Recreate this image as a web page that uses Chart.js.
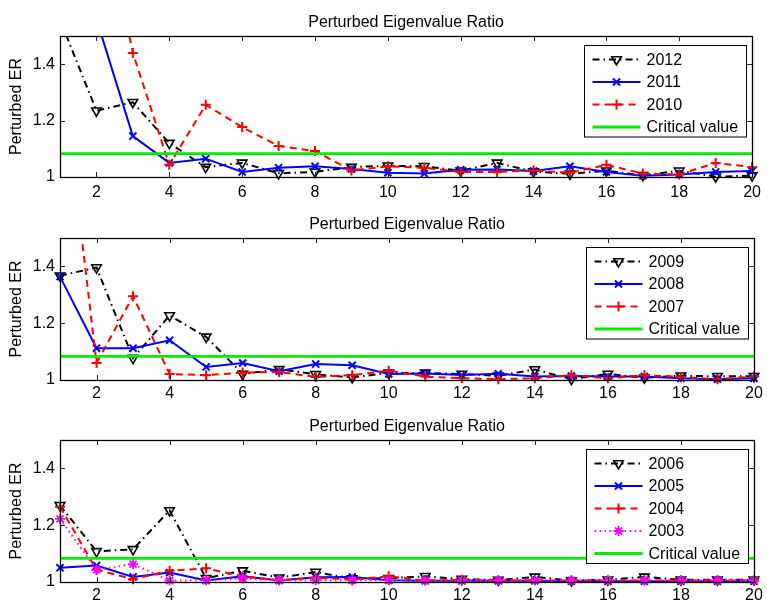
<!DOCTYPE html>
<html>
<head>
<meta charset="utf-8">
<title>Perturbed Eigenvalue Ratio</title>
<script src="https://cdn.jsdelivr.net/npm/chart.js@4.4.0/dist/chart.umd.min.js"></script>
<style>
  body { margin: 0; background: #fff; }
  .panel { position: absolute; left: 0; }
</style>
</head>
<body>
<canvas id="panelTop" class="panel" width="767" height="200" style="top:0"></canvas>
<canvas id="panelMid" class="panel" width="767" height="200" style="top:200px"></canvas>
<canvas id="panelBot" class="panel" width="767" height="202" style="top:400px"></canvas>
<script>
// number of eigenvalues on the x axis
const ranks = [1, 2, 3, 4, 5, 6, 7, 8, 9, 10, 11, 12, 13, 14, 15, 16, 17, 18, 19, 20];
const xTicks = [2, 4, 6, 8, 10, 12, 14, 16, 18, 20];
const yTicks = [1, 1.2, 1.4];
const yMin = 1, yMax = 1.5;
const criticalValue = 1.083;

// perturbed eigenvalue ratio by year
const er2012 = [1.558, 1.235, 1.265, 1.12, 1.035, 1.05, 1.013, 1.018, 1.035, 1.04, 1.038, 1.022, 1.05, 1.019, 1.011, 1.022, 1.006, 1.022, 1.001, 1.005];
const er2011 = [1.95, 1.56, 1.145, 1.05, 1.065, 1.018, 1.033, 1.038, 1.028, 1.015, 1.012, 1.026, 1.027, 1.021, 1.038, 1.018, 1.004, 1.009, 1.018, 1.021];
const er2010 = [2.4, 2.05, 1.44, 1.043, 1.256, 1.177, 1.11, 1.092, 1.023, 1.038, 1.033, 1.018, 1.018, 1.023, 1.015, 1.043, 1.012, 1.009, 1.05, 1.035];

const er2009 = [1.367, 1.396, 1.077, 1.227, 1.152, 1.021, 1.038, 1.02, 1.009, 1.025, 1.025, 1.021, 1.015, 1.037, 1.003, 1.021, 1.008, 1.015, 1.013, 1.013];
const er2008 = [1.364, 1.112, 1.112, 1.14, 1.046, 1.06, 1.031, 1.056, 1.052, 1.021, 1.023, 1.018, 1.022, 1.012, 1.014, 1.012, 1.012, 1.006, 1.003, 1.006];
const er2007 = [2.15, 1.06, 1.295, 1.021, 1.017, 1.026, 1.028, 1.011, 1.017, 1.033, 1.012, 1.006, 1.003, 1.006, 1.017, 1.006, 1.017, 1.011, 1.003, 1.012];

const er2006 = [1.27, 1.108, 1.115, 1.252, 1.013, 1.04, 1.015, 1.035, 1.012, 1.013, 1.02, 1.01, 1.007, 1.018, 1.005, 1.008, 1.018, 1.008, 1.008, 1.008];
const er2005 = [1.05, 1.058, 1.018, 1.033, 1.005, 1.02, 1.005, 1.017, 1.018, 1.006, 1.004, 1.004, 1.004, 1.004, 1.003, 1.003, 1.003, 1.003, 1.003, 1.003];
const er2004 = [1.265, 1.043, 1.01, 1.04, 1.048, 1.02, 1.006, 1.015, 1.009, 1.02, 1.005, 1.008, 1.005, 1.006, 1.005, 1.005, 1.005, 1.005, 1.005, 1.005];
const er2003 = [1.222, 1.043, 1.063, 1.005, 1.006, 1.012, 1.006, 1.006, 1.006, 1.006, 1.006, 1.006, 1.006, 1.006, 1.006, 1.006, 1.006, 1.006, 1.006, 1.006];

const FONT = "'Liberation Sans', Arial, Helvetica, sans-serif";
const FONT_SIZE = 16;
Chart.defaults.font.family = FONT;
Chart.defaults.font.size = FONT_SIZE;
Chart.defaults.color = '#000';

// matlab-ish line styles, in plotting order
const styles = [
  { color: '#000000', dash: [7, 4, 1.5, 4], point: 'triangle', rot: 180, radius: 5.5, pw: 1.6 },
  { color: '#0000ff', dash: [], point: 'crossRot', rot: 0, radius: 5, pw: 2 },
  { color: '#ff0000', dash: [7, 5], point: 'cross', rot: 0, radius: 5, pw: 2 },
  { color: '#ff00ff', dash: [1.5, 3.5], point: 'star', rot: 0, radius: 5, pw: 1.8 }
];

function toPoints(values) {
  return ranks.map((r, i) => ({ x: r, y: values[i] }));
}

// box around the axes with inward tick marks on all four sides
const axesBox = {
  id: 'axesBox',
  afterDatasetsDraw(chart) {
    const { ctx, chartArea: a, scales } = chart;
    ctx.save();
    ctx.strokeStyle = '#222';
    ctx.lineWidth = 1;
    ctx.beginPath();
    scales.x.ticks.forEach(t => {
      const px = Math.round(scales.x.getPixelForValue(t.value)) + 0.5;
      ctx.moveTo(px, a.bottom); ctx.lineTo(px, a.bottom - 5);
      ctx.moveTo(px, a.top); ctx.lineTo(px, a.top + 5);
    });
    scales.y.ticks.forEach(t => {
      const py = Math.round(scales.y.getPixelForValue(t.value)) + 0.5;
      ctx.moveTo(a.left, py); ctx.lineTo(a.left + 5, py);
      ctx.moveTo(a.right, py); ctx.lineTo(a.right - 5, py);
    });
    ctx.stroke();
    ctx.strokeStyle = '#000';
    ctx.lineWidth = 1.3;
    ctx.strokeRect(Math.round(a.left) + 0.5, Math.round(a.top) + 0.5,
      Math.round(a.right - a.left), Math.round(a.bottom - a.top));
    ctx.restore();
  }
};

// title centred over the plot area
const panelTitle = {
  id: 'panelTitle',
  afterDraw(chart, args, opts) {
    const { ctx, chartArea: a } = chart;
    ctx.save();
    ctx.font = FONT_SIZE + 'px ' + FONT;
    ctx.fillStyle = '#000';
    ctx.textAlign = 'center';
    ctx.textBaseline = 'alphabetic';
    ctx.fillText(opts.text, (a.left + a.right) / 2, a.top - 9.5);
    ctx.restore();
  }
};

// legend box in the upper right corner, line sample with marker in the middle
const boxLegend = {
  id: 'boxLegend',
  afterDraw(chart) {
    const { ctx, chartArea: a } = chart;
    const sets = chart.data.datasets;
    const rowH = 22.5, w = 162;
    const h = 14 + (sets.length - 1) * rowH + 10;
    const x0 = Math.round(a.right - 6 - w) + 0.5;
    const y0 = Math.round(a.top + 9) + 0.5;
    ctx.save();
    ctx.fillStyle = '#fff';
    ctx.fillRect(x0, y0, w, h);
    ctx.strokeStyle = '#000';
    ctx.lineWidth = 1;
    ctx.strokeRect(x0, y0, w, h);
    sets.forEach((ds, i) => {
      const cy = y0 + 14 + i * rowH;
      ctx.save();
      ctx.strokeStyle = ds.borderColor;
      ctx.lineWidth = ds.borderWidth;
      ctx.setLineDash(ds.borderDash || []);
      ctx.beginPath();
      ctx.moveTo(x0 + 8, cy);
      ctx.lineTo(x0 + 56, cy);
      ctx.stroke();
      ctx.restore();
      if (ds.pointRadius > 0) {
        ctx.save();
        ctx.strokeStyle = ds.borderColor;
        ctx.fillStyle = 'rgba(0,0,0,0)';
        ctx.lineWidth = ds.pointBorderWidth;
        Chart.helpers.drawPoint(ctx, {
          pointStyle: ds.pointStyle, rotation: ds.pointRotation,
          radius: ds.pointRadius, borderWidth: ds.pointBorderWidth
        }, x0 + 32, cy);
        ctx.restore();
      }
      ctx.fillStyle = '#000';
      ctx.font = FONT_SIZE + 'px ' + FONT;
      ctx.textAlign = 'left';
      ctx.textBaseline = 'middle';
      ctx.fillText(ds.label, x0 + 62, cy + 1);
    });
    ctx.restore();
  }
};

function makePanel(canvasId, titleText, labels, seriesList, topPad, xAxisH, xLabelPad) {
  const datasets = seriesList.map((vals, i) => {
    const s = styles[i];
    return {
      label: labels[i],
      data: toPoints(vals),
      borderColor: s.color,
      borderWidth: 2,
      borderDash: s.dash,
      pointStyle: s.point,
      pointRotation: s.rot,
      pointRadius: s.radius,
      pointBorderWidth: s.pw,
      pointBorderColor: s.color,
      pointBackgroundColor: 'rgba(0,0,0,0)',
      tension: 0,
      order: -i,
      clip: { left: 8, right: 8, top: 0, bottom: 8 }
    };
  });
  datasets.push({
    label: 'Critical value',
    data: [{ x: ranks[0], y: criticalValue }, { x: ranks[ranks.length - 1], y: criticalValue }],
    borderColor: '#00ee00',
    borderWidth: 2.8,
    borderDash: [],
    pointRadius: 0,
    order: -10
  });

  return new Chart(document.getElementById(canvasId), {
    type: 'line',
    data: { datasets },
    options: {
      responsive: false,
      animation: false,
      events: [],
      layout: { padding: { top: topPad, left: 0, right: 13, bottom: 0 } },
      plugins: {
        legend: { display: false },
        tooltip: { enabled: false },
        panelTitle: { text: titleText }
      },
      scales: {
        x: {
          type: 'linear',
          min: ranks[0],
          max: ranks[ranks.length - 1],
          grid: { display: false, drawTicks: false },
          border: { display: false },
          afterBuildTicks: s => { s.ticks = xTicks.map(v => ({ value: v })); },
          afterFit: s => { s.height = xAxisH; },
          ticks: { padding: xLabelPad, maxRotation: 0, color: '#000' }
        },
        y: {
          min: yMin,
          max: yMax,
          grid: { display: false, drawTicks: false },
          border: { display: false },
          afterBuildTicks: s => { s.ticks = yTicks.map(v => ({ value: v })); },
          afterFit: s => { s.width = 60; },
          ticks: { padding: 5, color: '#000', callback: v => String(Math.round(v * 10) / 10) },
          title: { display: true, text: 'Perturbed ER', color: '#000', font: { size: FONT_SIZE }, padding: { top: 7, bottom: 0 } }
        }
      }
    },
    plugins: [axesBox, panelTitle, boxLegend]
  });
}

makePanel('panelTop', 'Perturbed Eigenvalue Ratio', ['2012', '2011', '2010'],
  [er2012, er2011, er2010], 36, 23, 6);
makePanel('panelMid', 'Perturbed Eigenvalue Ratio', ['2009', '2008', '2007'],
  [er2009, er2008, er2007], 38, 20, 3.5);
makePanel('panelBot', 'Perturbed Eigenvalue Ratio', ['2006', '2005', '2004', '2003'],
  [er2006, er2005, er2004, er2003], 40, 20, 3.5);
</script>
</body>
</html>
